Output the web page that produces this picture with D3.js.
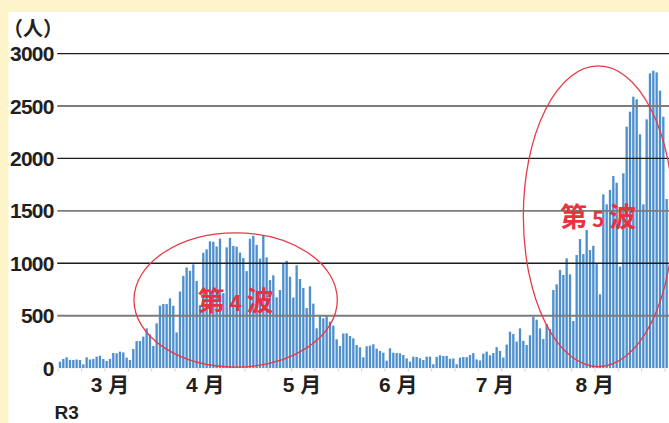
<!DOCTYPE html>
<html>
<head>
<meta charset="utf-8">
<script src="https://cdn.jsdelivr.net/npm/d3@7"></script>
<style>
  html, body { margin: 0; padding: 0; background: #fdf4c9; }
  svg { display: block; }
</style>
</head>
<body>
<svg id="chart" width="669" height="423"></svg>
<script>
// Daily new cases, one value per day starting 2021-03-01 (R3)
const startDate = "2021-03-01";
const cases = [
  61, 87, 103, 77, 77, 82, 77, 36, 103, 82,
  87, 109, 118, 87, 68, 87, 144, 141, 157, 150,
  100, 77, 182, 258, 258, 300, 379, 322, 211, 427,
  595, 611, 611, 665, 595, 340, 730, 880, 960, 929,
  990, 831, 600, 1100, 1133, 1210, 1205, 1160, 1235, 715,
  1152, 1242, 1166, 1158, 1102, 1050, 925, 1234, 1262, 1175,
  1045, 1262, 1056, 840, 885, 675, 745, 995, 1023, 872,
  673, 980, 850, 765, 573, 780, 615, 380, 507, 475,
  500, 443, 405, 275, 211, 330, 332, 306, 284, 220,
  198, 103, 208, 214, 227, 185, 163, 147, 71, 189,
  147, 144, 141, 125, 93, 62, 109, 106, 93, 77,
  109, 109, 37, 107, 122, 115, 117, 89, 92, 37,
  100, 105, 105, 125, 143, 83, 73, 138, 157, 122,
  144, 200, 165, 101, 225, 347, 325, 253, 379, 260,
  220, 313, 490, 462, 379, 278, 420, 373, 745, 799,
  936, 888, 1047, 894, 449, 1079, 1231, 1088, 1317, 1126,
  1167, 992, 704, 1657, 1562, 1700, 1832, 1768, 968, 1858,
  2303, 2446, 2589, 2564, 2230, 1562, 2373, 2812, 2837, 2821,
  2646, 2398, 1613
];

// Value axis
const yTicks = [0, 500, 1000, 1500, 2000, 2500, 3000];
const yUnit = "（人）";

// Month labels and where they sit along the day axis (days after startDate)
const monthLabels = ["3 月", "4 月", "5 月", "6 月", "7 月", "8 月"];
const monthLabelDay = [15, 43.6, 72.6, 101.5, 130.5, 160.4];
const eraLabel = "R3";

// Wave annotations, in data units (day index / case count)
const waveNames = ["第", "波"];
const waveNumbers = ["4", "5"];
const waveCenterDay = [52.7, 161.5];
const waveCenterValue = [650, 1448];
const waveHalfDays = [30.5, 22.5];
const waveHalfValue = [640, 1434];

const svg = d3.select("#chart");
const W = 669, H = 423;

// Panel
svg.append("rect").attr("x", 0).attr("y", 0).attr("width", W).attr("height", H).attr("fill", "#fdf4c9");
svg.append("rect").attr("x", 8.5).attr("y", 11.7).attr("width", W).attr("height", H).attr("fill", "#ffffff");

const days = d3.range(cases.length);
const x = d3.scaleBand().domain(days).range([58.3, 58.3 + cases.length * 3.3335])
  .paddingInner(0.3).paddingOuter(0.15);
const y = d3.scaleLinear().domain([0, 3000]).range([368.1, 53.6]);
const dayX = d => x(0) + x.bandwidth() / 2 + d * x.step();

const t0 = d3.timeParse("%Y-%m-%d")(startDate);
const dates = days.map(i => d3.timeDay.offset(t0, i));

// Bars
svg.append("g").selectAll("rect").data(cases).join("rect")
  .attr("x", (d, i) => x(i))
  .attr("width", x.bandwidth())
  .attr("y", d => y(d))
  .attr("height", d => y(0) - y(d))
  .attr("fill", "#4e8fcd");

// Weekly ticks (Mondays)
svg.append("g").selectAll("line")
  .data(days.filter(i => dates[i].getDay() === 1))
  .join("line")
  .attr("x1", i => x(i) - x.step() * 0.15).attr("x2", i => x(i) - x.step() * 0.15)
  .attr("y1", y(0) + 0.5).attr("y2", y(0) + 3.5)
  .attr("stroke", "#d0d0d0").attr("stroke-width", 1);

// Grid lines over the bars
svg.append("g").selectAll("line").data(yTicks.filter(v => v > 0)).join("line")
  .attr("x1", 57.3).attr("x2", W)
  .attr("y1", d => y(d)).attr("y2", d => y(d))
  .attr("stroke", d => d % 1000 === 0 ? "#1c1c1c" : "#7c7c7c")
  .attr("stroke-width", d => d % 1000 === 0 ? 1.3 : 1.9);

// Value labels
svg.append("g").selectAll("text").data(yTicks).join("text")
  .attr("x", 53.6)
  .attr("y", d => y(d) + 7.6)
  .attr("text-anchor", "end")
  .attr("font-family", "'Liberation Sans', Arial, sans-serif")
  .attr("font-weight", "bold")
  .attr("font-size", 21)
  .attr("letter-spacing", "-0.8px")
  .attr("fill", "#231f20")
  .text(d => d);

svg.append("text")
  .attr("x", 3).attr("y", 35.5)
  .attr("font-family", "'Noto Sans CJK JP', sans-serif")
  .attr("font-weight", "bold")
  .attr("font-size", 20)
  .attr("fill", "#231f20")
  .text(yUnit);

// Month labels
svg.append("g").selectAll("text").data(monthLabels).join("text")
  .attr("x", (d, i) => dayX(monthLabelDay[i]))
  .attr("y", 391.5)
  .attr("text-anchor", "middle")
  .attr("font-family", "'Liberation Sans', 'Noto Sans CJK JP', sans-serif")
  .attr("font-weight", "bold")
  .attr("font-size", 21)
  .attr("fill", "#231f20")
  .text(d => d);

svg.append("text")
  .attr("x", 54.5).attr("y", 418.5)
  .attr("font-family", "'Liberation Sans', Arial, sans-serif")
  .attr("font-weight", "bold")
  .attr("font-size", 19)
  .attr("fill", "#231f20")
  .text(eraLabel);

// Wave annotations
const dayPx = x.step();
waveNumbers.forEach((n, k) => {
  const cx = dayX(waveCenterDay[k]);
  const cy = y(waveCenterValue[k]);
  svg.append("ellipse")
    .attr("cx", cx).attr("cy", cy)
    .attr("rx", waveHalfDays[k] * dayPx)
    .attr("ry", y(0) - y(waveHalfValue[k]))
    .attr("fill", "none")
    .attr("stroke", "#e63a47")
    .attr("stroke-width", 1.3);
  const t = svg.append("text")
    .attr("x", cx).attr("y", cy + 11)
    .attr("text-anchor", "middle")
    .attr("font-family", "'Noto Sans CJK JP', sans-serif")
    .attr("font-weight", "bold")
    .attr("fill", "#e8333f");
  t.append("tspan").attr("font-size", 27).text(waveNames[0]);
  t.append("tspan").attr("font-size", 21).text(" " + n + " ");
  t.append("tspan").attr("font-size", 27).text(waveNames[1]);
});
</script>
</body>
</html>
